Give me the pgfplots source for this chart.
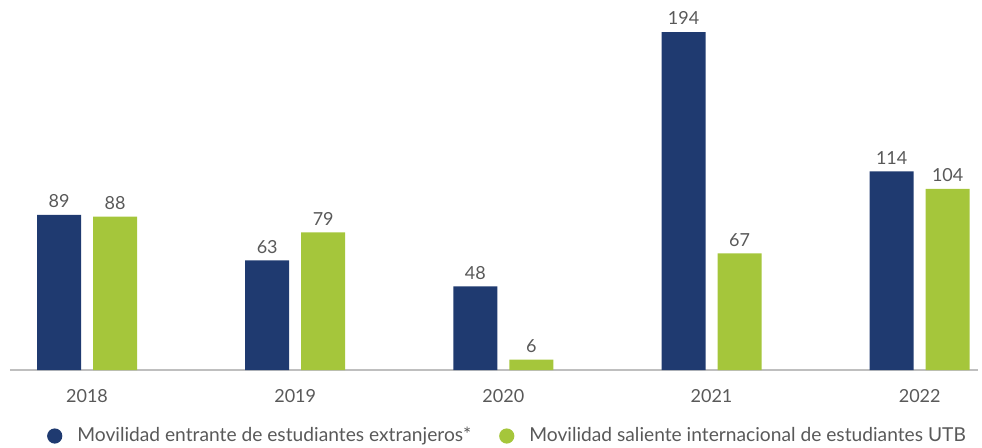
\documentclass[border=0pt]{standalone}
\usepackage{pgfplots}
\pgfplotsset{compat=1.18}
\usepackage{fontspec}
\setmainfont{Lato}
\definecolor{cblue}{HTML}{1F3A70}
\definecolor{cgreen}{HTML}{A5C63B}
\definecolor{ctext}{HTML}{595959}
\definecolor{caxis}{HTML}{BFBFBF}
\begin{document}
\begin{tikzpicture}
\useasboundingbox (-5pt,-38.5pt) rectangle (486pt,185pt);
\begin{axis}[
  at={(0,0)}, anchor=south west,
  scale only axis, width=484pt, height=185pt,
  /pgf/number format/assume math mode=true,
  ybar, bar width=22pt,
  ymin=0, ymax=212.4,
  xmin=-0.37, xmax=4.28,
  axis x line*=bottom, axis y line=none,
  x axis line style={draw=caxis, line width=1pt},
  xtick={0,1,2,3,4},
  xticklabels={2018,2019,2020,2021,2022},
  xtick style={draw=none},
  ytick=\empty,
  xticklabel style={font=\fontsize{9}{10}\selectfont, text=ctext, yshift=-2pt},
  nodes near coords,
  every node near coord/.append style={font=\fontsize{9}{10}\selectfont, text=ctext},
  clip=false,
  legend style={at={(0.515,0)}, anchor=center, yshift=-33pt, draw=none, fill=none,
    font=\fontsize{9.6}{12}\selectfont, text=ctext, legend columns=2,
    /tikz/every odd column/.append style={column sep=5.5pt},
    /tikz/every even column/.append style={column sep=12pt}},
  legend image code/.code={\fill[#1] (0,0) circle (3.8pt);},
]
\addplot[fill=cblue, draw=none, bar shift=-14pt] coordinates {(0,89) (1,63) (2,48) (3,194) (4,114)};
\addplot[fill=cgreen, draw=none, bar shift=14pt] coordinates {(0,88) (1,79) (2,6) (3,67) (4,104)};
\legend{Movilidad entrante de estudiantes extranjeros*, Movilidad saliente internacional de estudiantes UTB}
\end{axis}
\end{tikzpicture}
\end{document}
